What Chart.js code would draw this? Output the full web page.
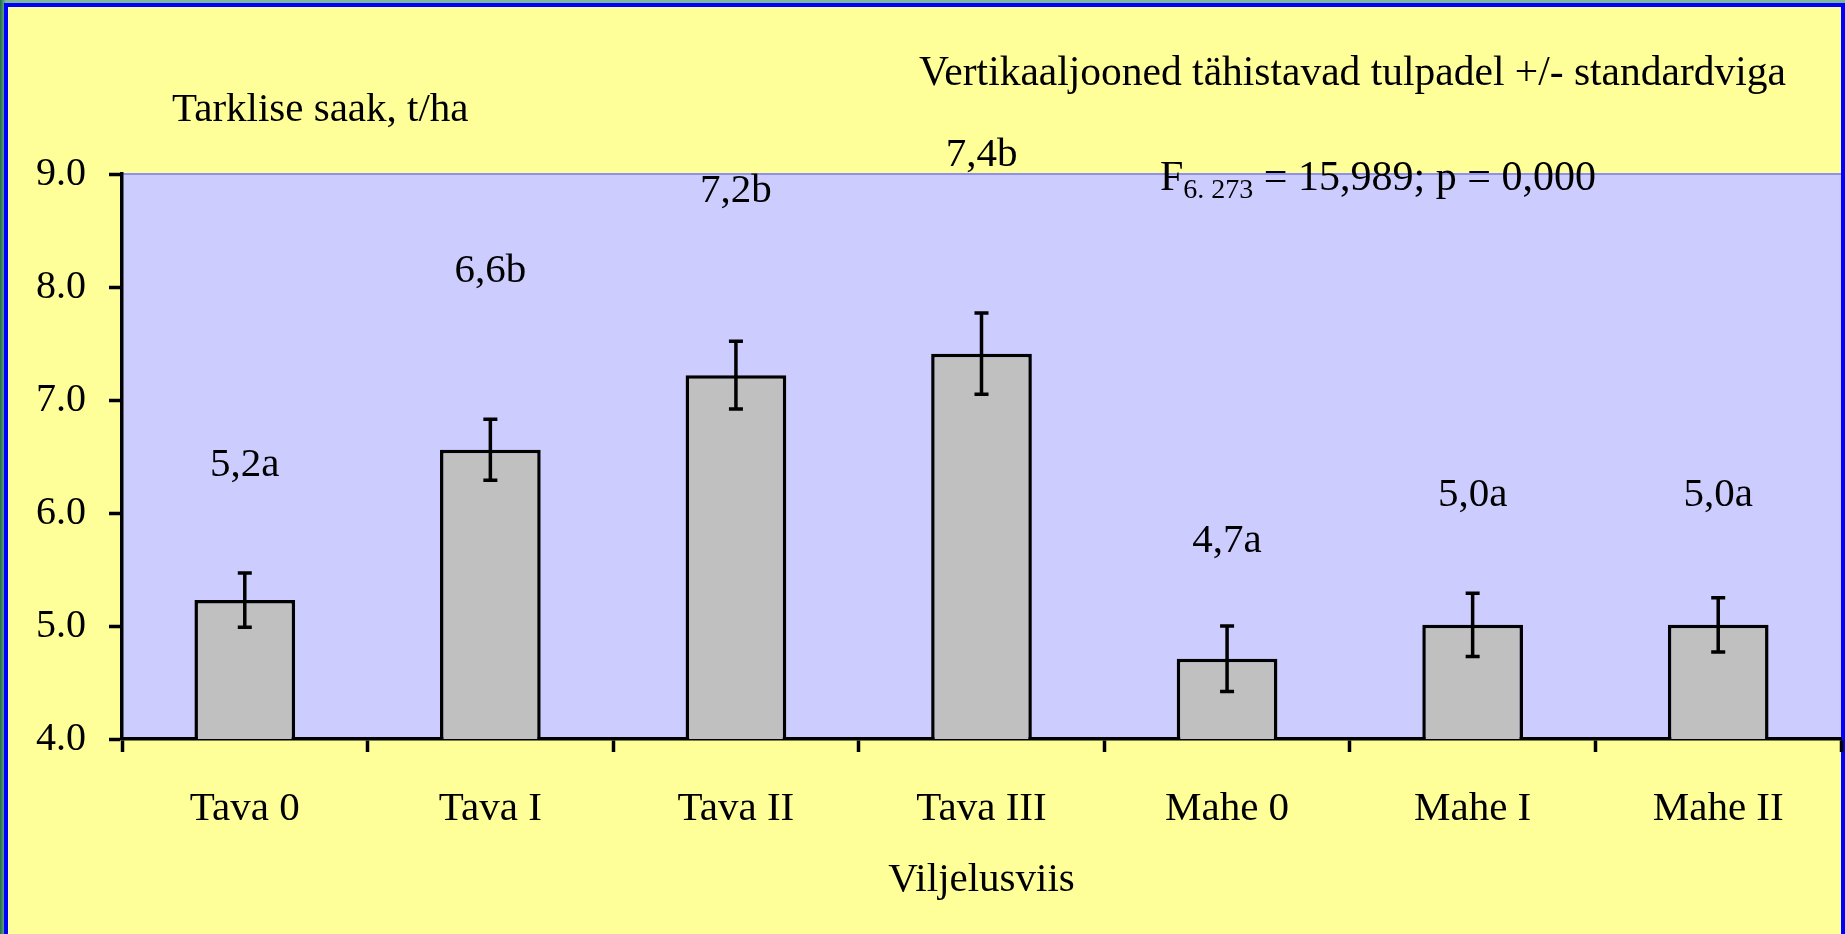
<!DOCTYPE html>
<html>
<head>
<meta charset="utf-8">
<script src="https://cdn.jsdelivr.net/npm/chart.js@4/dist/chart.umd.min.js"></script>
<style>
  html, body { margin: 0; padding: 0; background: #2e7d5b; }
  canvas { display: block; }
</style>
</head>
<body>
<canvas id="graafik" width="1845" height="934"></canvas>
<script>
// andmed
const kategooriad = ['Tava 0', 'Tava I', 'Tava II', 'Tava III', 'Mahe 0', 'Mahe I', 'Mahe II'];
const saak = [5.23, 6.56, 7.22, 7.41, 4.71, 5.01, 5.01];
const standardviga = [0.24, 0.27, 0.30, 0.36, 0.29, 0.28, 0.24];
const tahised = ['5,2a', '6,6b', '7,2b', '7,4b', '4,7a', '5,0a', '5,0a'];
const tahiseKohad = [6.42, 8.14, 8.85, 9.17, 5.75, 6.16, 6.16];
const yTicks = [4, 5, 6, 7, 8, 9];

const FONT = '"Liberation Serif", "Times New Roman", serif';

const taust = {
    id: 'taust',
    beforeDraw(chart) {
        const c = chart.ctx;
        const a = chart.chartArea;
        c.save();
        // roheline serv vasakul/ules
        const g = c.createLinearGradient(0, 0, 6, 0);
        g.addColorStop(0, '#1f6e4a');
        g.addColorStop(1, '#7fb79a');
        c.fillStyle = g;
        c.fillRect(0, 0, chart.width, chart.height);
        c.fillStyle = '#0000ff';
        c.fillRect(4, 3, chart.width - 4, chart.height);
        c.fillStyle = '#ffff99';
        c.fillRect(8, 7, chart.width - 12, chart.height);
        c.fillStyle = '#ccccff';
        c.fillRect(a.left, a.top, a.right - a.left, a.bottom - a.top);
        c.strokeStyle = '#8f8ff0';
        c.lineWidth = 2;
        c.beginPath();
        c.moveTo(a.left, a.top);
        c.lineTo(a.right, a.top);
        c.stroke();
        c.restore();
    }
};

const vead = {
    id: 'vead',
    afterDatasetsDraw(chart) {
        const c = chart.ctx;
        const y = chart.scales.y;
        const meta = chart.getDatasetMeta(0);
        c.save();
        c.strokeStyle = '#000';
        c.lineWidth = 3.5;
        meta.data.forEach((bar, i) => {
            const x = bar.x;
            const y1 = y.getPixelForValue(saak[i] + standardviga[i]);
            const y2 = y.getPixelForValue(saak[i] - standardviga[i]);
            c.beginPath();
            c.moveTo(x, y1); c.lineTo(x, y2);
            c.moveTo(x - 7, y1); c.lineTo(x + 7, y1);
            c.moveTo(x - 7, y2); c.lineTo(x + 7, y2);
            c.stroke();
        });
        c.restore();
    },
    afterDraw(chart) {
        const c = chart.ctx;
        const y = chart.scales.y;
        const meta = chart.getDatasetMeta(0);
        c.save();
        c.fillStyle = '#000';
        c.font = '41px ' + FONT;
        c.textAlign = 'center';
        c.textBaseline = 'middle';
        meta.data.forEach((bar, i) => {
            c.fillText(tahised[i], bar.x, y.getPixelForValue(tahiseKohad[i]));
        });
        c.textAlign = 'left';
        c.textBaseline = 'alphabetic';
        c.fillText('Tarklise saak, t/ha', 172, 121);
        c.font = '41.5px ' + FONT;
        c.fillText('Vertikaaljooned tähistavad tulpadel +/- standardviga', 919, 85);
        // F-statistik
        let x = 1160;
        c.font = '42px ' + FONT;
        c.fillText('F', x, 190);
        x += c.measureText('F').width;
        c.font = '28px ' + FONT;
        c.fillText('6. 273', x, 198);
        x += c.measureText('6. 273').width;
        c.font = '42px ' + FONT;
        c.fillText(' = 15,989; p = 0,000', x, 190);
        c.restore();
    }
};

const ctx = document.getElementById('graafik').getContext('2d');
new Chart(ctx, {
    type: 'bar',
    data: {
        labels: kategooriad,
        datasets: [{
            data: saak,
            backgroundColor: '#c0c0c0',
            borderColor: '#000',
            borderWidth: 3.5,
            borderSkipped: false,
            barPercentage: 0.41,
            categoryPercentage: 1
        }]
    },
    options: {
        responsive: false,
        animation: false,
        layout: { padding: { top: 174, right: 4, left: 0, bottom: 0 } },
        plugins: {
            legend: { display: false },
            tooltip: { enabled: false }
        },
        scales: {
            x: {
                grid: { drawOnChartArea: false, tickLength: 13, tickWidth: 3.5, tickColor: '#000', offset: true },
                border: { color: '#000', width: 3.5 },
                ticks: { color: '#000', font: { family: FONT, size: 41 }, padding: 33, maxRotation: 0 },
                title: { display: true, text: 'Viljelusviis', color: '#000', font: { family: FONT, size: 41 }, padding: { top: 0, bottom: 29 } },
                afterFit(scale) { scale.height = 195; }
            },
            y: {
                min: 4,
                max: 9,
                afterBuildTicks(scale) { scale.ticks = yTicks.map(v => ({ value: v })); },
                grid: { drawOnChartArea: false, tickLength: 13, tickWidth: 3.5, tickColor: '#000' },
                border: { color: '#000', width: 3.5 },
                ticks: {
                    color: '#000',
                    font: { family: FONT, size: 40 },
                    padding: 23,
                    callback: v => Number(v).toFixed(1)
                },
                afterFit(scale) { scale.width = 122; }
            }
        }
    },
    plugins: [taust, vead]
});
</script>
</body>
</html>
